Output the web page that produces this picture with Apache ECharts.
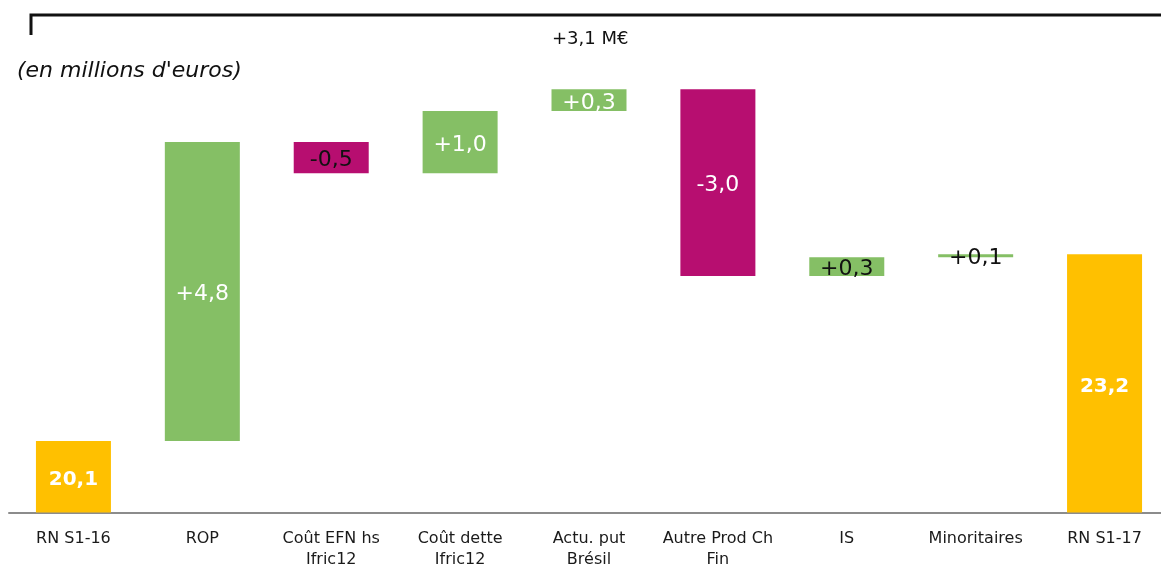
<!DOCTYPE html>
<html><head><meta charset="utf-8">
<script src="https://cdn.jsdelivr.net/npm/echarts@6/dist/echarts.min.js"></script>
<style>html,body{margin:0;padding:0;background:#fff}#c{width:1161px;height:565px}</style>
</head><body><div id="c"></div>
<script>
const categories = ['RN S1-16','ROP','Coût EFN hs\nIfric12','Coût dette\nIfric12','Actu. put\nBrésil','Autre Prod Ch\nFin','IS','Minoritaires','RN S1-17'];
const startValue = 20.1;
const deltas = [4.8, -0.5, 1.0, 0.35, -3.0, 0.3, 0.05];
const endValue = 23.1;
const valueLabels = ['20,1','+4,8','-0,5','+1,0','+0,3','-3,0','+0,3','+0,1','23,2'];
const totalLabel = '+3,1 M€';
const unitLabel = "(en millions d'euros)";

const YELLOW = '#FFC000', GREEN = '#85BF65', MAGENTA = '#B70E70';
const darkLabelIdx = [2, 6, 7];

const base = [], vis = [];
let run = startValue;
base.push(0);
vis.push({value: startValue, itemStyle:{color: YELLOW}});
deltas.forEach(d => {
  const lo = d >= 0 ? run : run + d;
  base.push(lo);
  vis.push({value: Math.abs(d), itemStyle:{color: d >= 0 ? GREEN : MAGENTA}});
  run += d;
});
base.push(0);
vis.push({value: endValue, itemStyle:{color: YELLOW}});
vis.forEach((v, i) => {
  const total = (i === 0 || i === vis.length - 1);
  v.label = total
    ? {color: '#fff', fontWeight: 'bold', fontSize: 20}
    : {color: darkLabelIdx.includes(i) ? '#111' : '#fff', fontWeight: 'normal'};
});

const chart = echarts.init(document.getElementById('c'));
chart.setOption({
  animation: false,
  grid: {left: 9, right: -8, top: 73.6, bottom: 52.5, outerBoundsMode: 'none', containLabel: false},
  xAxis: {type: 'category', data: categories,
    axisLine: {lineStyle: {color: '#8c8c8c', width: 2}},
    axisTick: {show: false},
    axisLabel: {color: '#1a1a1a', fontSize: 16, fontFamily: 'DejaVu Sans', lineHeight: 21, margin: 16, interval: 0}},
  yAxis: {type: 'value', min: 18.95, max: 26.0, show: false, splitLine: {show: false}},
  graphic: [
    {type: 'polyline', shape: {points: [[31, 35], [31, 15], [1165, 15]]}, style: {stroke: '#111', lineWidth: 3, fill: null}},
    {type: 'text', left: 552, top: 30, style: {text: totalLabel, fontSize: 18, fontFamily: 'DejaVu Sans', fill: '#111'}},
    {type: 'text', left: 17, top: 60, style: {text: unitLabel, fontSize: 22, fontStyle: 'italic', fontFamily: 'DejaVu Sans', fill: '#111'}}
  ],
  series: [
    {type: 'bar', stack: 'w', data: base, itemStyle: {color: 'transparent'}, barWidth: 75, silent: true},
    {type: 'bar', stack: 'w', data: vis, barWidth: 75,
      label: {show: true, position: 'inside', offset: [0, 3], fontSize: 22, fontFamily: 'DejaVu Sans',
        formatter: p => valueLabels[p.dataIndex]}}
  ]
});
</script></body></html>
